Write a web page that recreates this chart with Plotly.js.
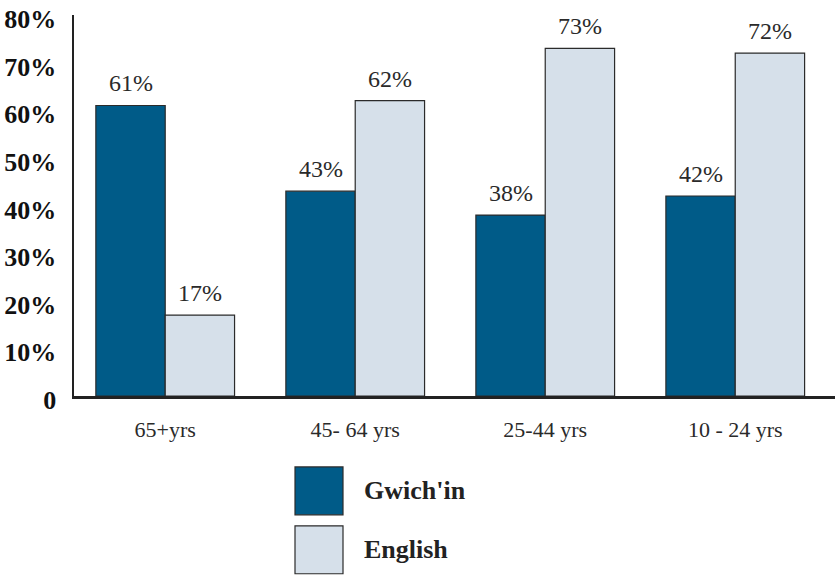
<!DOCTYPE html>
<html>
<head>
<meta charset="utf-8">
<script src="https://cdn.plot.ly/plotly-3.0.1.min.js"></script>
<style>
  html, body { margin: 0; padding: 0; background: #fff; }
  #chart { width: 835px; height: 575px; }
</style>
</head>
<body>
<div id="chart"></div>
<script>
// Age groups along the x axis
const categories = ['65+yrs', '45- 64 yrs', '25-44 yrs', '10 - 24 yrs'];

// Share of speakers per language, in percent
const seriesNames = ["Gwich'in", 'English'];
const gwichin = [61, 43, 38, 42];
const english = [17, 62, 73, 72];

// Y axis ticks
const yTickVals = [0, 10, 20, 30, 40, 50, 60, 70, 80];
const yTickText = ['0', '10%', '20%', '30%', '40%', '50%', '60%', '70%', '80%'];

const colors = ['#005B88', '#D6E0EA'];
const edge = '#2b2b2b';
const serif = '"Liberation Serif", "Times New Roman", serif';
const bargap = 0.27;

const W = 835, H = 575;
const margin = { l: 74, r: 0, t: 14.5, b: 179 };
const plotW = W - margin.l - margin.r;
const plotH = H - margin.t - margin.b;

const values = [gwichin, english];
const traces = values.map((vals, i) => ({
  type: 'bar',
  name: seriesNames[i],
  x: categories,
  y: vals,
  marker: { color: colors[i], line: { color: edge, width: 1.2 } },
  hoverinfo: 'skip'
}));

// Value labels above each bar, placed in data coordinates
const barW = (1 - bargap) / 2;
const annotations = [];
values.forEach((vals, i) => {
  const off = (i === 0 ? -1 : 1) * barW / 2;
  vals.forEach((v, j) => {
    annotations.push({
      x: j + off, y: v, xref: 'x', yref: 'y',
      text: v + '%', showarrow: false,
      yanchor: 'bottom', xanchor: 'center', yshift: 7,
      font: { family: serif, size: 24, color: '#2a2a2a' }
    });
  });
});

// Legend: large swatches with bold labels below the plot
const px2x = px => (px - margin.l) / plotW;
const px2y = py => (H - margin.b - py) / plotH;
const shapes = [];
const swatchTop = [467, 526];
seriesNames.forEach((name, i) => {
  const top = swatchTop[i];
  shapes.push({
    type: 'rect', xref: 'paper', yref: 'paper',
    x0: px2x(295), x1: px2x(343), y0: px2y(top + 48), y1: px2y(top),
    fillcolor: colors[i], line: { color: edge, width: 1.2 }
  });
  annotations.push({
    xref: 'paper', yref: 'paper', x: px2x(362), y: px2y(top + 24),
    xanchor: 'left', yanchor: 'middle', showarrow: false,
    text: '<b>' + name + '</b>',
    font: { family: serif, size: 26, color: '#222' }
  });
});

const layout = {
  width: W, height: H,
  margin: margin,
  paper_bgcolor: '#fff', plot_bgcolor: '#fff',
  font: { family: serif },
  barmode: 'group',
  bargap: bargap,
  bargroupgap: 0,
  showlegend: false,
  xaxis: {
    type: 'category',
    range: [-0.48, 3.525],
    showgrid: false, zeroline: false,
    showline: true, linecolor: '#222', linewidth: 2.5,
    ticks: '', ticklabelstandoff: 12,
    tickfont: { family: serif, size: 22, color: '#2a2a2a' }
  },
  yaxis: {
    range: [0, 80],
    tickvals: yTickVals, ticktext: yTickText,
    showgrid: false, zeroline: false,
    showline: true, linecolor: '#222', linewidth: 2.5,
    ticks: '', ticklabelstandoff: 10, ticklabelshift: 4,
    ticklabeloverflow: 'allow',
    tickfont: { family: serif, size: 26, color: '#111', weight: 'bold' }
  },
  shapes: shapes,
  annotations: annotations
};

Plotly.newPlot('chart', traces, layout, { staticPlot: true, displayModeBar: false });
</script>
</body>
</html>
